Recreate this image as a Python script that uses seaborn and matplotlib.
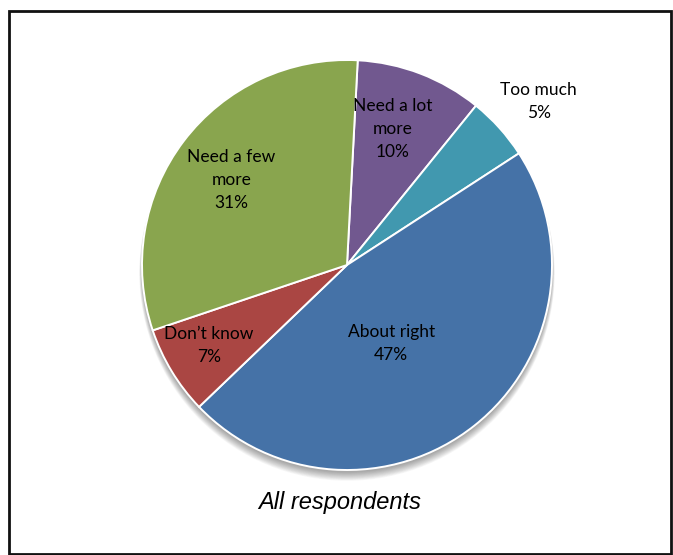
import matplotlib
matplotlib.use("Agg")
import matplotlib.pyplot as plt
from matplotlib.patches import Rectangle, Circle
import numpy as np
import seaborn as sns

# Survey answers, clockwise from the top of the pie
categories = ["Need a lot\nmore", "Too much", "About right", "Don\u2019t know", "Need a few\nmore"]
shares = [10, 5, 47, 7, 31]
colors = sns.color_palette(["#71588F", "#4198AF", "#4572A7", "#AA4643", "#89A54E"])
title = "All respondents"

# radial placement of each label, as a fraction of the radius
label_radius = [0.70, 1.23, 0.44, 0.78, 0.70]
label_shift = [-2.5, 1.5, 9.0, 1.0, -0.8]  # degrees, clockwise

sns.set_theme(style="white")
plt.rcParams["font.family"] = ["Lato", "DejaVu Sans"]

W, H = 673, 555
fig = plt.figure(figsize=(W / 100, H / 100), dpi=100)
fig.patch.set_facecolor("white")

cx, cy, r = 347, 265, 205
ax = fig.add_axes([(cx - r) / W, (H - cy - r) / H, 2 * r / W, 2 * r / H])
ax.set_xlim(-1, 1)
ax.set_ylim(-1, 1)
ax.set_aspect("equal")
ax.axis("off")

# soft drop shadow under the pie
for k in range(12):
    ax.add_patch(Circle((0.0, -0.012 - 0.0025 * k), 1.0 + 0.0012 * k, color="black",
                        alpha=0.03, zorder=0, lw=0, clip_on=False))

wedges, _ = ax.pie(shares, colors=colors, startangle=87, counterclock=False,
                   radius=1.0, center=(0, 0), frame=False,
                   wedgeprops=dict(edgecolor="white", linewidth=1.4))
ax.set_xlim(-1, 1)
ax.set_ylim(-1, 1)
for w in wedges:
    w.set_zorder(2)

for w, name, val, rf, sh in zip(wedges, categories, shares, label_radius, label_shift):
    mid = np.deg2rad((w.theta1 + w.theta2) / 2 - sh)
    x, y = rf * np.cos(mid), rf * np.sin(mid)
    ax.text(x, y, f"{name}\n{val}%", ha="center", va="center",
            fontsize=12.5, color="black", linespacing=1.55, zorder=3)

fig.text(340 / W, 1 - 503 / H, title, ha="center", va="center",
         fontsize=17, style="italic", family=["Liberation Sans", "DejaVu Sans"],
         color="black")

# outer frame
fig.add_artist(Rectangle((8.5 / W, 1.2 / H), 662.5 / W, (H - 12.5) / H,
                         transform=fig.transFigure, fill=False,
                         edgecolor="#111111", linewidth=2.0))

fig.savefig("out.png", dpi=100, facecolor="white")
